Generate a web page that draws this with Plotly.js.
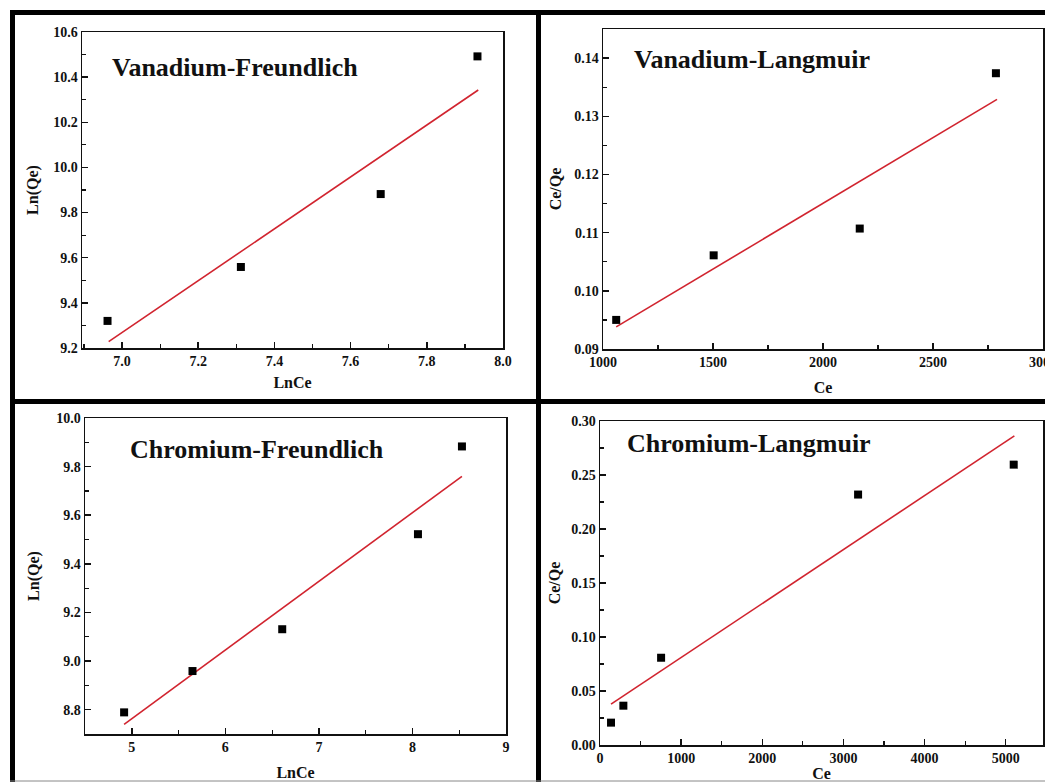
<!DOCTYPE html>
<html>
<head>
<meta charset="utf-8">
<script src="https://cdn.plot.ly/plotly-3.0.1.min.js"></script>
<style>html,body{margin:0;padding:0;background:#fff;}#chart{width:1045px;height:782px;}</style>
</head>
<body>
<div id="chart"></div>
<script>
// ---- Data ----
const panelTitles = ["Vanadium-Freundlich", "Vanadium-Langmuir", "Chromium-Freundlich", "Chromium-Langmuir"];
const xTitles = ["LnCe", "Ce", "LnCe", "Ce"];
const yTitles = ["Ln(Qe)", "Ce/Qe", "Ln(Qe)", "Ce/Qe"];

// Vanadium - Freundlich
const vfX = [6.962, 7.312, 7.679, 7.933];
const vfY = [9.32, 9.559, 9.882, 10.492];
const vfFitX = [6.965, 7.935];
const vfFitY = [9.228, 10.343];

// Vanadium - Langmuir
const vlX = [1060, 1503, 2167, 2786];
const vlY = [0.0950, 0.1061, 0.1107, 0.1374];
const vlFitX = [1060, 2791];
const vlFitY = [0.0938, 0.1329];

// Chromium - Freundlich
const cfX = [4.918, 5.649, 6.608, 8.059, 8.529];
const cfY = [8.789, 8.959, 9.131, 9.522, 9.883];
const cfFitX = [4.918, 8.529];
const cfFitY = [8.740, 9.760];

// Chromium - Langmuir
const clX = [136, 288, 753, 3181, 5099];
const clY = [0.0207, 0.0364, 0.0808, 0.2319, 0.2596];
const clFitX = [136, 5107];
const clFitY = [0.0379, 0.2862];

// ---- Layout helpers ----
const W = 1045, H = 782;
const fx = p => p / W;
const fy = p => 1 - p / H;

const FONT = "'Liberation Serif', 'Times New Roman', serif";
const red = "#d1242f";
const titleFont = {family: FONT, size: 16, color: "#111", weight: "bold"};

function scatter(x, y, xa, ya) {
  return {x: x, y: y, xaxis: xa, yaxis: ya, type: "scatter", mode: "markers",
    marker: {symbol: "square", size: 8, color: "#000"}, showlegend: false, hoverinfo: "skip"};
}
function fit(x, y, xa, ya) {
  return {x: x, y: y, xaxis: xa, yaxis: ya, type: "scatter", mode: "lines",
    line: {color: red, width: 1.6}, showlegend: false, hoverinfo: "skip"};
}

const data = [
  fit(vfFitX, vfFitY, "x", "y"), scatter(vfX, vfY, "x", "y"),
  fit(vlFitX, vlFitY, "x2", "y2"), scatter(vlX, vlY, "x2", "y2"),
  fit(cfFitX, cfFitY, "x3", "y3"), scatter(cfX, cfY, "x3", "y3"),
  fit(clFitX, clFitY, "x4", "y4"), scatter(clX, clY, "x4", "y4")
];

function axis(opts) {
  return Object.assign({
    showline: true, linecolor: "#111", linewidth: 1.5, mirror: true,
    showgrid: false, zeroline: false,
    ticks: "inside", ticklen: 6, tickwidth: 1.5, tickcolor: "#111",
    tickfont: {family: FONT, size: 14, color: "#111", weight: "bold"},
    ticklabeloverflow: "allow",
    fixedrange: true
  }, opts);
}
function minor(t0, dt) {
  return {ticks: "inside", ticklen: 4, tickwidth: 1.2, tickcolor: "#111", tick0: t0, dtick: dt};
}

const layout = {
  width: W, height: H,
  margin: {l: 0, r: 0, t: 0, b: 0},
  paper_bgcolor: "#fff", plot_bgcolor: "#fff",
  showlegend: false,
  xaxis: axis({domain: [fx(82), fx(503)], anchor: "y", range: [6.895, 8.0], tick0: 7.0, dtick: 0.2, tickformat: ".1f",
    minor: minor(6.9, 0.2), title: {text: xTitles[0], standoff: 8, font: titleFont}}),
  yaxis: axis({domain: [fy(348), fy(32)], anchor: "x", range: [9.2, 10.6], tick0: 9.2, dtick: 0.2, tickformat: ".1f",
    minor: minor(9.3, 0.2), title: {text: yTitles[0], standoff: 10, font: titleFont}}),

  xaxis2: axis({domain: [fx(603), fx(1043)], anchor: "y2", range: [1000, 3000], tick0: 1000, dtick: 500,
    minor: minor(1250, 500), title: {text: xTitles[1], standoff: 12, font: titleFont}}),
  yaxis2: axis({domain: [fy(349), fy(29)], anchor: "x2", range: [0.09, 0.145], tick0: 0.09, dtick: 0.01, tickformat: ".2f",
    minor: minor(0.095, 0.01), title: {text: yTitles[1], standoff: 8, font: titleFont}}),

  xaxis3: axis({domain: [fx(85), fx(506)], anchor: "y3", range: [4.5, 9], tick0: 5, dtick: 1,
    minor: minor(5.5, 1), title: {text: xTitles[2], standoff: 12, font: titleFont}}),
  yaxis3: axis({domain: [fy(734), fy(418)], anchor: "x3", range: [8.7, 10.0], tick0: 8.8, dtick: 0.2, tickformat: ".1f",
    minor: minor(8.9, 0.2), title: {text: yTitles[2], standoff: 12, font: titleFont}}),

  xaxis4: axis({domain: [fx(600), fx(1043)], anchor: "y4", range: [0, 5460], tick0: 0, dtick: 1000,
    minor: minor(500, 1000), title: {text: xTitles[3], standoff: 2, font: titleFont}}),
  yaxis4: axis({domain: [fy(745), fy(421)], anchor: "x4", range: [0, 0.30], tick0: 0, dtick: 0.05, tickformat: ".2f",
    minor: minor(0.025, 0.05), title: {text: yTitles[3], standoff: 6, font: titleFont}}),

  annotations: [
    {text: panelTitles[0], x: fx(110), y: fy(68), xanchor: "left", yanchor: "middle"},
    {text: panelTitles[1], x: fx(632), y: fy(59), xanchor: "left", yanchor: "middle"},
    {text: panelTitles[2], x: fx(128), y: fy(449), xanchor: "left", yanchor: "middle"},
    {text: panelTitles[3], x: fx(625), y: fy(443), xanchor: "left", yanchor: "middle"}
  ].map(a => Object.assign({xref: "paper", yref: "paper", showarrow: false,
    font: {family: FONT, size: 26, color: "#111", weight: "bold"}}, a)),

  shapes: [
    // outer panel frames
    {x0: fx(10), x1: fx(1045), y0: fy(12.5), y1: fy(12.5)},
    {x0: fx(12.5), x1: fx(12.5), y0: fy(10), y1: fy(782)},
    {x0: fx(538.5), x1: fx(538.5), y0: fy(10), y1: fy(782)},
    {x0: fx(10), x1: fx(1045), y0: fy(401.5), y1: fy(401.5)}
  ].map(s => Object.assign({type: "line", xref: "paper", yref: "paper", line: {color: "#000", width: 5}}, s))
    .concat([{type: "line", xref: "paper", yref: "paper", x0: fx(10), x1: fx(1045), y0: fy(781), y1: fy(781),
      line: {color: "#888", width: 1}}])
};

Plotly.newPlot("chart", data, layout, {staticPlot: true, displayModeBar: false});
</script>
</body>
</html>
